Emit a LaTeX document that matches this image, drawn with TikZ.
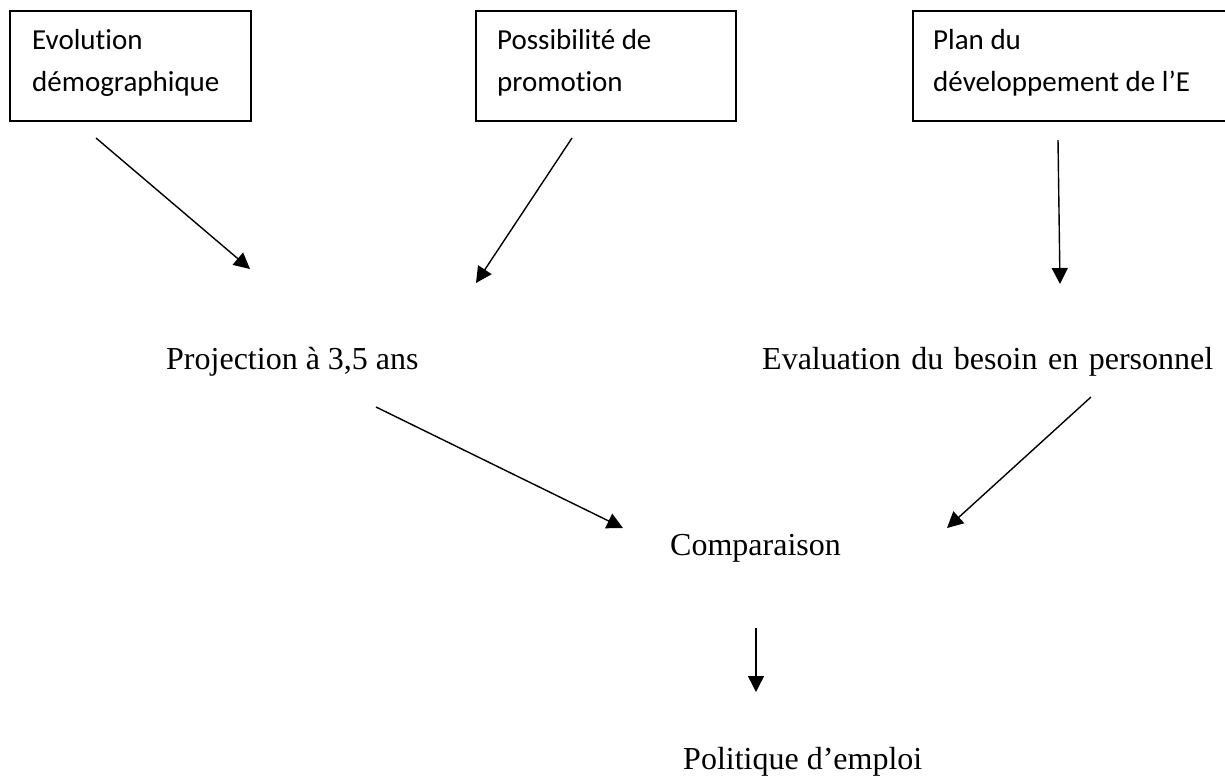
\documentclass[tikz,border=0pt]{standalone}
\usepackage{fontspec}
\setmainfont{Liberation Serif}
\newfontfamily\boxfont[Ligatures=NoCommon]{Carlito}
\usetikzlibrary{arrows.meta}
\begin{document}
\begin{tikzpicture}[x=1pt,y=-1pt,
  frame/.style={draw, line width=1.6pt, anchor=north west, inner sep=0pt},
  boxline/.style={anchor=base west, inner sep=0pt, font=\boxfont\fontsize{29}{35}\selectfont},
  label/.style={anchor=base west, inner sep=0pt, font=\fontsize{32}{38}\selectfont},
  link/.style={line width=1.4pt, -{Triangle[length=16pt,width=16pt]}}]
\useasboundingbox (0,0) rectangle (1225,776);

% input boxes
\node[frame, minimum width=241pt, minimum height=110pt] (evo) at (9,10) {};
\node[boxline] (evo1) at (32,50) {Evolution};
\node[boxline] (evo2) at (32,91) {démographique};

\node[frame, minimum width=260pt, minimum height=110pt] (pro) at (475,10) {};
\node[boxline] (pro1) at (497,50) {Possibilité de};
\node[boxline] (pro2) at (497,91) {promotion};

\node[frame, minimum width=326pt, minimum height=110pt] (plan) at (912,10) {};
\node[boxline] (plan1) at (933,50) {Plan du};
\node[boxline] (plan2) at (933,91) {développement de l’E};

% intermediate and final texts
\node[label] (proj) at (166,369) {Projection à 3,5 ans};
\node[label] (eval) at (762,369) {\makebox[451pt][s]{Evaluation du besoin en personnel}};
\node[label] (comp) at (670,555) {Comparaison};
\node[label] (pol) at (683,769) {Politique d’emploi};

% arrow end points
\coordinate (a1s) at (96,138);   \coordinate (a1e) at (250,269);
\coordinate (a2s) at (572,138);  \coordinate (a2e) at (476,283);
\coordinate (a3s) at (1058,140); \coordinate (a3e) at (1060,284);
\coordinate (a4s) at (376,407);  \coordinate (a4e) at (623,528);
\coordinate (a5s) at (1091,397); \coordinate (a5e) at (947,528);
\coordinate (a6s) at (756,628);  \coordinate (a6e) at (756,692);

\draw[link] (a1s) -- (a1e);
\draw[link] (a2s) -- (a2e);
\draw[link] (a3s) -- (a3e);
\draw[link] (a4s) -- (a4e);
\draw[link] (a5s) -- (a5e);
\draw[link] (a6s) -- (a6e);
\end{tikzpicture}
\end{document}
